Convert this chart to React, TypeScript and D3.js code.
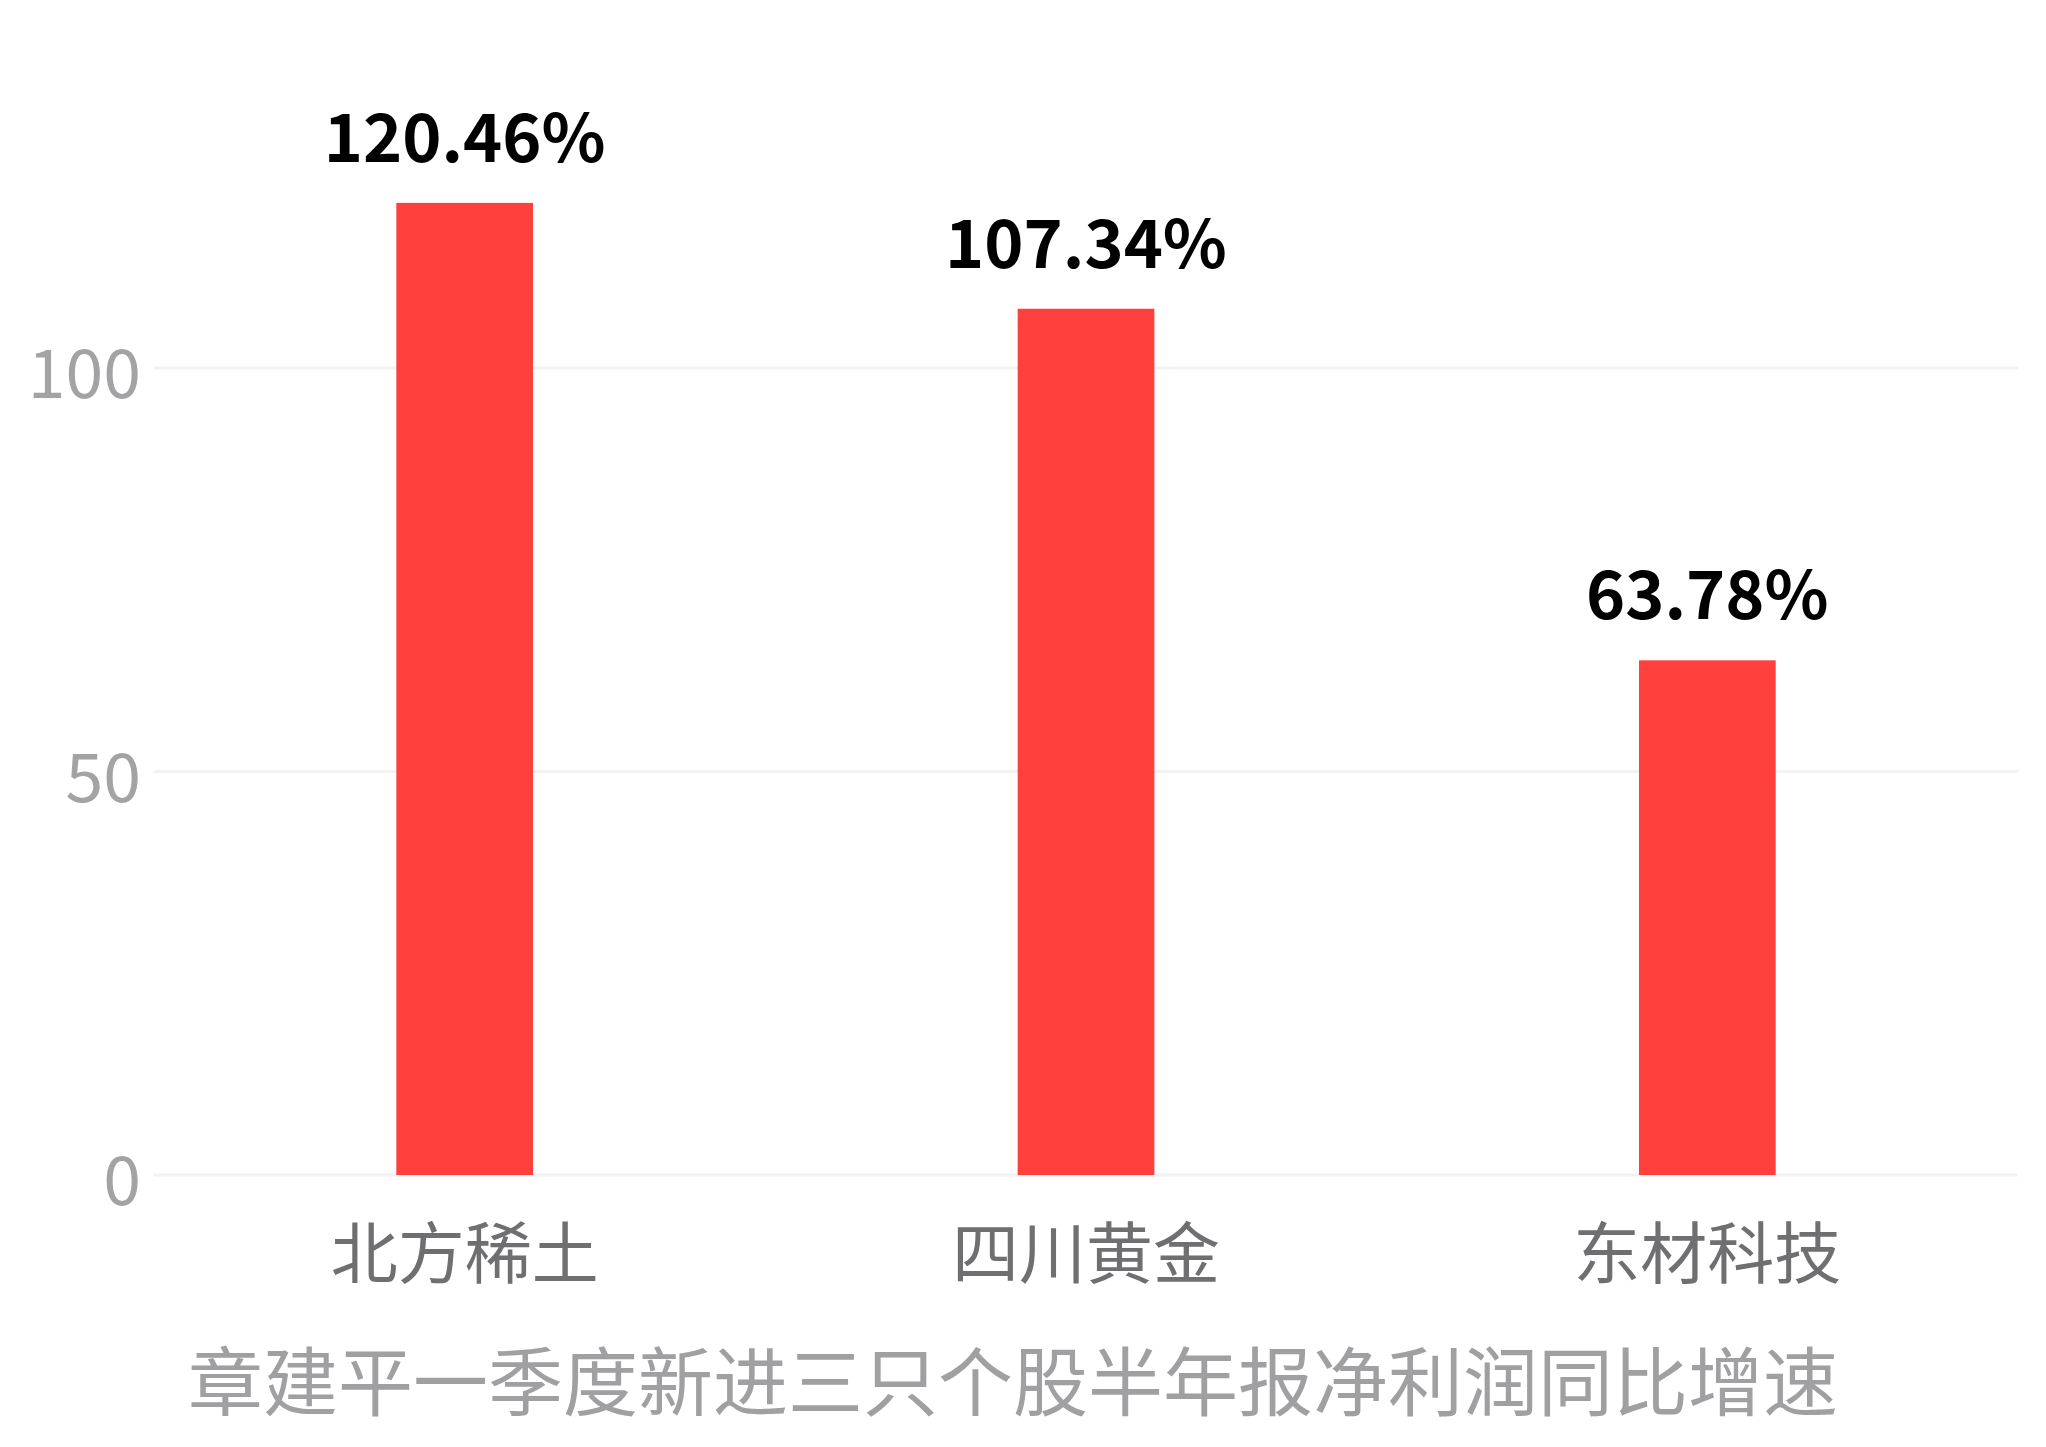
import React, { useEffect, useRef } from 'react';
import * as d3 from 'd3';

const categories = ['北方稀土', '四川黄金', '东材科技'];
const growth = [120.46, 107.34, 63.78];
const growthLabels = ['120.46%', '107.34%', '63.78%'];
const yTicks = [0, 50, 100];
const title = '章建平一季度新进三只个股半年报净利润同比增速';

const FONT = '"Noto Sans CJK SC", "Noto Sans", sans-serif';

const App: React.FC = () => {
  const svgRef = useRef<SVGSVGElement>(null);

  useEffect(() => {
    if (!svgRef.current) return;
    const svg = d3.select(svgRef.current);
    svg.selectAll('*').remove();

    const width = 2046;
    const height = 1447;
    const left = 154;
    const right = 2018;
    const bottom = 1175;

    svg.attr('width', width).attr('height', height);

    const x = d3.scaleBand<string>()
      .domain(categories)
      .range([left, right])
      .paddingInner(0.78)
      .paddingOuter(0.39);

    // 100 units = 807px
    const y = d3.scaleLinear()
      .domain([0, 100])
      .range([bottom, bottom - 807]);

    // gridlines
    svg.append('g')
      .selectAll('line')
      .data(yTicks)
      .enter()
      .append('line')
      .attr('x1', left)
      .attr('x2', right)
      .attr('y1', d => y(d))
      .attr('y2', d => y(d))
      .attr('stroke', '#f2f2f2')
      .attr('stroke-width', 3);

    // y tick labels
    svg.append('g')
      .selectAll('text')
      .data(yTicks)
      .enter()
      .append('text')
      .attr('x', 141)
      .attr('y', d => y(d) + 30)
      .attr('text-anchor', 'end')
      .attr('font-family', FONT)
      .attr('font-size', 68)
      .attr('fill', '#a3a3a6')
      .text(d => String(d));

    // bars
    svg.append('g')
      .selectAll('rect')
      .data(growth)
      .enter()
      .append('rect')
      .attr('x', (d, i) => x(categories[i]) || 0)
      .attr('y', d => y(d))
      .attr('width', x.bandwidth())
      .attr('height', d => y(0) - y(d))
      .attr('fill', '#ff403c');

    // value labels
    svg.append('g')
      .selectAll('text')
      .data(growth)
      .enter()
      .append('text')
      .attr('x', (d, i) => (x(categories[i]) || 0) + x.bandwidth() / 2)
      .attr('y', d => y(d) - 41)
      .attr('text-anchor', 'middle')
      .attr('font-family', FONT)
      .attr('font-weight', 700)
      .attr('font-size', 66.5)
      .attr('fill', '#000')
      .text((d, i) => growthLabels[i]);

    // category labels
    svg.append('g')
      .selectAll('text')
      .data(categories)
      .enter()
      .append('text')
      .attr('x', d => (x(d) || 0) + x.bandwidth() / 2)
      .attr('y', 1278)
      .attr('text-anchor', 'middle')
      .attr('font-family', FONT)
      .attr('font-size', 67)
      .attr('fill', '#6f6f72')
      .text(d => d);

    // bottom title
    svg.append('text')
      .attr('x', 1013)
      .attr('y', 1410)
      .attr('text-anchor', 'middle')
      .attr('font-family', FONT)
      .attr('font-size', 75)
      .attr('fill', '#a0a0a3')
      .text(title);
  }, []);

  return (
    <svg
      ref={svgRef}
      style={{ position: 'absolute', left: 0, top: 0, background: '#fff' }}
    ></svg>
  );
};

export default App;
